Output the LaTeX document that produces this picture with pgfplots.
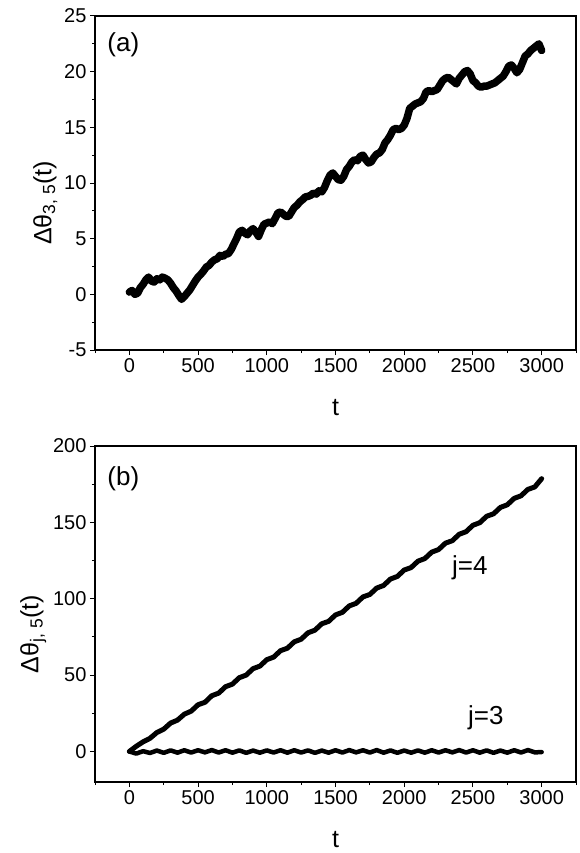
\documentclass[border=0pt]{standalone}
\usepackage{pgfplots}
\pgfplotsset{compat=1.18}
\usepackage{fontspec}
\setmainfont{Liberation Sans}

\pgfplotstableread{
t v
0 0.2
20 0.35
40 0.0
60 0.1
80 0.6
100 0.9
120 1.3
140 1.55
160 1.2
180 1.1
200 1.4
220 1.3
240 1.55
260 1.45
280 1.3
300 1.0
320 0.6
340 0.3
360 -0.1
380 -0.45
400 -0.2
420 0.1
440 0.4
460 0.8
480 1.2
500 1.55
520 1.8
540 2.1
560 2.45
580 2.6
600 2.9
620 3.1
640 3.2
660 3.5
680 3.4
700 3.6
720 3.65
740 4.0
760 4.5
780 5.0
800 5.6
820 5.75
840 5.5
860 5.35
880 5.7
900 5.9
920 5.6
940 5.2
960 5.8
980 6.3
1000 6.4
1020 6.5
1040 6.35
1060 6.8
1080 7.3
1100 7.4
1120 7.2
1140 7.0
1160 7.0
1180 7.4
1200 7.8
1220 8.0
1240 8.3
1260 8.5
1280 8.75
1300 8.8
1320 8.9
1340 9.1
1360 9.0
1380 9.3
1400 9.2
1420 9.6
1440 10.2
1460 10.7
1480 10.9
1500 10.6
1520 10.3
1540 10.25
1560 10.6
1580 11.2
1600 11.5
1620 11.9
1640 12.1
1660 12.0
1680 12.4
1700 12.5
1720 12.1
1740 11.8
1760 11.9
1780 12.3
1800 12.6
1820 12.7
1840 13.0
1860 13.6
1880 13.9
1900 14.3
1920 14.8
1940 14.9
1960 14.8
1980 14.9
2000 15.2
2020 15.8
2040 16.7
2060 16.9
2080 17.1
2100 17.2
2120 17.3
2140 17.6
2160 18.2
2180 18.3
2200 18.2
2220 18.3
2240 18.4
2260 18.8
2280 19.2
2300 19.4
2320 19.5
2340 19.3
2360 19.1
2380 18.9
2400 19.4
2420 19.7
2440 20.0
2460 20.1
2480 19.8
2500 19.2
2520 19.0
2540 18.7
2560 18.6
2580 18.7
2600 18.7
2620 18.8
2640 18.9
2660 19.0
2680 19.2
2700 19.4
2720 19.6
2740 20.0
2760 20.5
2780 20.6
2800 20.3
2820 19.9
2840 20.2
2860 20.8
2880 21.4
2900 21.6
2920 21.9
2940 22.1
2960 22.3
2980 22.5
3000 21.9
}\dataA

\pgfplotstableread{
t v
0 0
50 3.4
100 6.3
150 8.6
200 12.4
250 14.6
300 18.6
350 20.5
400 24.4
450 26.4
500 30.6
550 32.2
600 36.5
650 38.2
700 42.4
750 44.1
800 48.3
850 50.0
900 54.2
950 55.9
1000 60.1
1050 61.8
1100 66.0
1150 67.6
1200 71.8
1250 73.5
1300 77.7
1350 79.4
1400 83.6
1450 85.2
1500 89.4
1550 91.1
1600 95.3
1650 97.0
1700 101.2
1750 102.8
1800 107.0
1850 108.7
1900 112.9
1950 114.6
2000 118.8
2050 120.4
2100 124.6
2150 126.3
2200 130.5
2250 132.2
2300 136.4
2350 138.0
2400 142.2
2450 143.9
2500 148.1
2550 149.8
2600 154.0
2650 155.6
2700 159.8
2750 161.5
2800 165.7
2850 167.4
2900 171.6
2950 173.2
3000 178.6
}\dataBfour

\pgfplotstableread{
t v
0 0
50 -1.4
100 0.2
150 -1.0
200 0.6
250 -0.9
300 0.7
350 -0.8
400 0.8
450 -0.7
500 0.8
550 -0.6
600 0.9
650 -0.7
700 0.8
750 -0.8
800 0.7
850 -0.9
900 0.6
950 -0.8
1000 0.7
1050 -0.7
1100 0.8
1150 -0.8
1200 0.8
1250 -0.7
1300 0.7
1350 -0.9
1400 0.6
1450 -0.8
1500 0.8
1550 -0.7
1600 0.9
1650 -0.6
1700 0.8
1750 -0.7
1800 0.9
1850 -0.8
1900 0.7
1950 -0.9
2000 0.6
2050 -0.8
2100 0.7
2150 -0.8
2200 0.8
2250 -0.7
2300 0.8
2350 -0.6
2400 0.9
2450 -0.7
2500 0.8
2550 -0.8
2600 0.7
2650 -0.9
2700 0.6
2750 -0.8
2800 0.8
2850 -0.7
2900 0.9
2950 -0.6
3000 -0.4
}\dataBthree

\pgfplotsset{
  myaxis/.style={
    scale only axis, width=481pt,
    xmin=-250, xmax=3250,
    xtick={0,500,...,3000},
    minor xtick={-250,250,...,3250},
    tick align=outside,
    tick pos=left,
    major tick length=5pt, minor tick length=3pt,
    every tick/.append style={black, line width=1pt},
    axis line style={line width=1.3pt},
    tick label style={font=\fontsize{20}{24}\selectfont},
    label style={font=\fontsize{25}{30}\selectfont},
    /pgf/number format/assume math mode=true,
    /pgf/number format/1000 sep={},
    scaled ticks=false,
    xlabel={t},
    xlabel style={yshift=-20pt},
    every axis y label/.append style={at={(ticklabel cs:0.44)}},
    clip=false,
  }
}

\begin{document}
\begin{tikzpicture}
\path[use as bounding box] (0pt,0pt) rectangle (580pt,-853pt);
\begin{axis}[myaxis, at={(95pt,-350pt)}, anchor=south west, height=334pt,
  ymin=-5, ymax=25,
  ytick={-5,0,5,10,15,20,25},
  yticklabels={-5,0,5,10,15,20,25},
  minor ytick={-2.5,2.5,7.5,12.5,17.5,22.5},
  ylabel={Δθ\textsubscript{3, 5}(t)}]
\addplot[black, line width=7.5pt, line join=round, line cap=round] table[x=t,y=v] {\dataA};
\node[font=\fontsize{26}{30}\selectfont] at (-44,22.4) {(a)};
\end{axis}
\begin{axis}[myaxis, at={(95pt,-782pt)}, anchor=south west, height=336pt,
  ymin=-20, ymax=200,
  ytick={0,50,100,150,200},
  minor ytick={25,75,125,175},
  ylabel={Δθ\textsubscript{j, 5}(t)}]
\addplot[black, line width=5pt, line join=round, line cap=round] table[x=t,y=v] {\dataBfour};
\addplot[black, line width=4.5pt, line join=round, line cap=round] table[x=t,y=v] {\dataBthree};
\node[font=\fontsize{26}{30}\selectfont] at (-44,178.8) {(b)};
\node[font=\fontsize{26}{30}\selectfont] at (2478,120.5) {j=4};
\node[font=\fontsize{26}{30}\selectfont] at (2594,22) {j=3};
\end{axis}
\end{tikzpicture}
\end{document}
